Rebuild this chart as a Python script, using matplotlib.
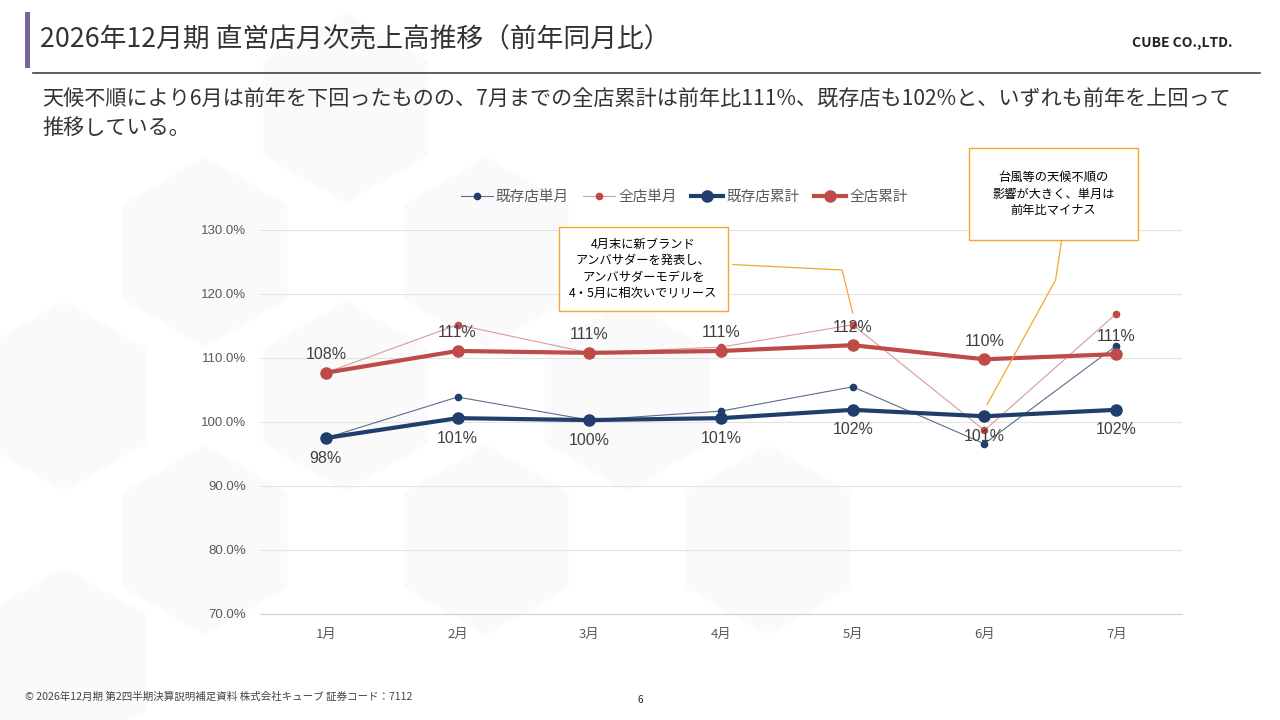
import numpy as np
import matplotlib
matplotlib.use("Agg")
import matplotlib.pyplot as plt
from matplotlib.patches import Rectangle, RegularPolygon

plt.rcParams['font.family'] = ['Noto Sans CJK JP', 'DejaVu Sans']

# データ
months = ["1月", "2月", "3月", "4月", "5月", "6月", "7月"]
existing_monthly = [97.5, 103.9, 100.3, 101.7, 105.5, 96.6, 111.9]
all_monthly = [107.7, 115.2, 110.8, 111.7, 115.2, 98.7, 116.9]
existing_cum = [97.5, 100.6, 100.3, 100.6, 101.9, 100.9, 101.9]
all_cum = [107.7, 111.1, 110.8, 111.1, 112.0, 109.8, 110.6]
existing_cum_labels = ["98%", "101%", "100%", "101%", "102%", "101%", "102%"]
all_cum_labels = ["108%", "111%", "111%", "111%", "112%", "110%", "111%"]
yticks = [70, 80, 90, 100, 110, 120, 130]

title = "2026年12月期 直営店月次売上高推移（前年同月比）"
subtitle = ("天候不順により6月は前年を下回ったものの、7月までの全店累計は前年比111%、既存店も102%と、いずれも前年を上回って\n"
            "推移している。")
note1 = "4月末に新ブランド\nアンバサダーを発表し、\nアンバサダーモデルを\n4・5月に相次いでリリース"
note2 = "台風等の天候不順の\n影響が大きく、単月は\n前年比マイナス"
footer = "© 2026年12月期 第2四半期決算説明補足資料 株式会社キューブ 証券コード：7112"

navy = "#1F3E6B"
red = "#BE4B48"
orange = "#F0A830"
num_font = ['Liberation Sans', 'DejaVu Sans']

fig = plt.figure(figsize=(12.8, 7.2), dpi=100)
fig.patch.set_facecolor("white")

# 背景の薄い六角形
for cx, cy in [(0.05, 0.45), (0.16, 0.25), (0.05, 0.08), (0.27, 0.45), (0.38, 0.25),
               (0.16, 0.65), (0.27, 0.85), (0.38, 0.65), (0.49, 0.45), (0.60, 0.25)]:
    fig.add_artist(RegularPolygon((cx * 1280, cy * 720), 6, radius=95, orientation=0,
                                  transform=None, fc="#FAFAFA", ec="none", zorder=-5))

# ヘッダー
fig.add_artist(Rectangle((25 / 1280, 1 - 68 / 720), 5 / 1280, 56 / 720,
                         transform=fig.transFigure, color="#76649A", lw=0))
fig.text(40 / 1280, 1 - 40 / 720, title, fontsize=19.3, color="#333333", va="center")
fig.text(1233 / 1280, 1 - 43 / 720, "CUBE CO.,LTD.", fontsize=10, fontweight="bold",
         color="#222222", ha="right", va="center")
fig.add_artist(plt.Line2D([33 / 1280, 1260 / 1280], [1 - 73 / 720] * 2,
                          transform=fig.transFigure, color="#444444", lw=1.2))
fig.text(42 / 1280, 1 - 114 / 720, subtitle, fontsize=15.2, color="#333333",
         va="center", linespacing=1.35)
fig.text(25 / 1280, 1 - 697 / 720, footer, fontsize=7.6, color="#444444", va="center")
fig.text(640 / 1280, 1 - 700 / 720, "6", fontsize=7, color="#222222", va="center", ha="center")

ax = fig.add_axes([260 / 1280, 1 - 614 / 720, 922 / 1280, 384 / 720])
ax.set_facecolor("none")
x = np.arange(len(months))

ax.plot(x, existing_monthly, color="#5A6F8C", lw=0.8, marker="o", ms=4.5,
        mfc=navy, mec=navy, label="既存店単月", zorder=3)
ax.plot(x, all_monthly, color="#D99A99", lw=0.8, marker="o", ms=4.5,
        mfc=red, mec=red, label="全店単月", zorder=3)
ax.plot(x, existing_cum, color=navy, lw=3, marker="o", ms=8, label="既存店累計", zorder=4)
ax.plot(x, all_cum, color=red, lw=3, marker="o", ms=8, label="全店累計", zorder=4)

for i in range(len(months)):
    ax.annotate(all_cum_labels[i], (x[i], all_cum[i]), xytext=(0, 13), textcoords="offset points",
                ha="center", va="center", fontsize=11.5, color="#404040", family=num_font, zorder=5)
    ax.annotate(existing_cum_labels[i], (x[i], existing_cum[i]), xytext=(0, -14.5), textcoords="offset points",
                ha="center", va="center", fontsize=11.5, color="#404040", family=num_font, zorder=5)

ax.set_xlim(-0.5, len(months) - 0.5)
ax.set_ylim(70, 130)
ax.set_yticks(yticks)
ax.set_yticklabels([f"{v:.1f}%" for v in yticks], fontsize=9.5, color="#595959", family=num_font)
ax.set_xticks(x)
ax.set_xticklabels(months, fontsize=9.5, color="#595959")
ax.tick_params(length=0, pad=10)
ax.tick_params(axis="y", pad=10)
ax.grid(axis="y", color="#E3E3E3", lw=0.8)
for s in ["top", "right", "left"]:
    ax.spines[s].set_visible(False)
ax.spines["bottom"].set_color("#D0D0D0")
ax.set_axisbelow(True)

leg = ax.legend(loc="center", bbox_to_anchor=(0.46, 1.0 + 33 / 384), ncol=4, frameon=False,
                fontsize=10.5, handlelength=2.2, handletextpad=0.2, columnspacing=1.0)
for t in leg.get_texts():
    t.set_color("#595959")

# 吹き出し
ax.text(2.41, 123.9, note1, fontsize=8.8, ha="center", va="center", linespacing=1.35, zorder=6,
        bbox=dict(boxstyle="square,pad=0.85", fc="white", ec=orange, lw=1))
ax.plot([3.09, 3.92, 4.0], [124.6, 123.75, 117.0], color=orange, lw=0.9, zorder=5, clip_on=False)
ax.text(5.525, 135.6, note2, fontsize=8.8, ha="center", va="center", linespacing=1.35, zorder=6,
        bbox=dict(boxstyle="square,pad=1.9", fc="white", ec=orange, lw=1))
ax.plot([5.59, 5.54, 5.02], [128.9, 122.2, 102.7], color=orange, lw=0.9, zorder=5, clip_on=False)

fig.savefig("out.png", dpi=100)
